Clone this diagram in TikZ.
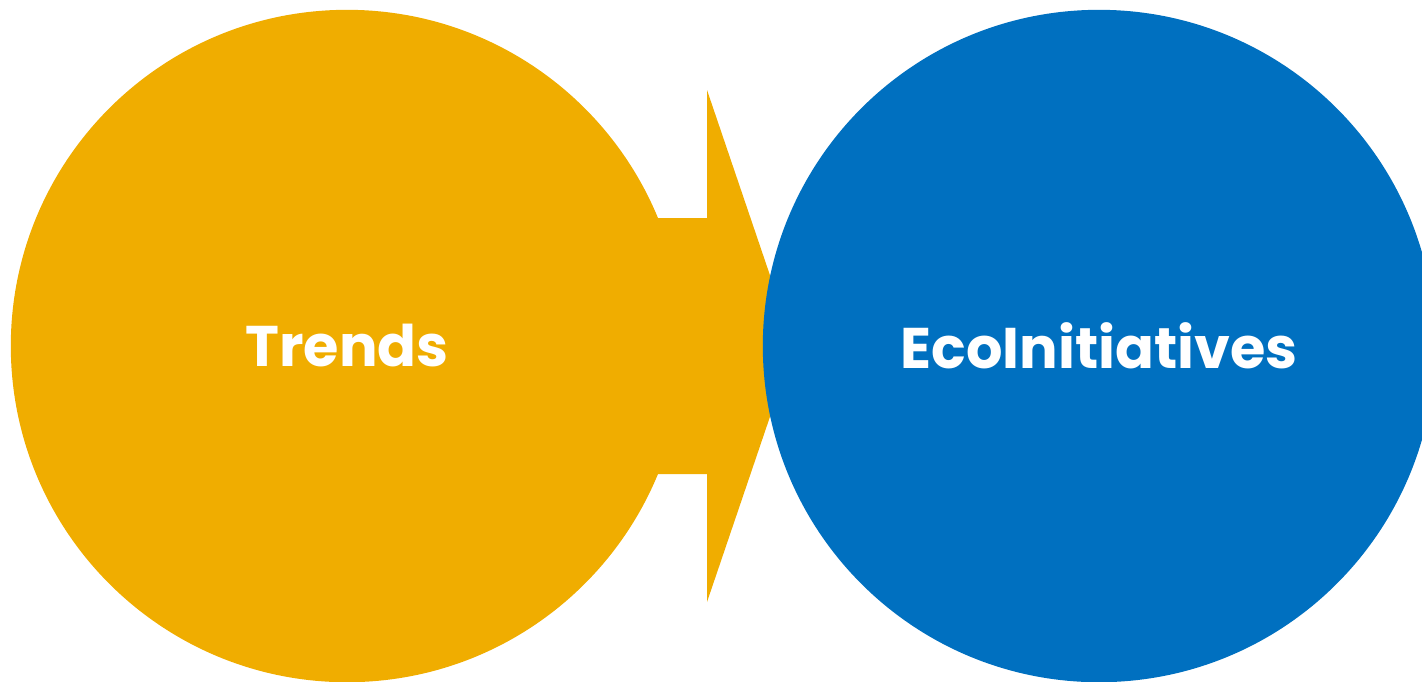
\documentclass[tikz,border=0pt]{standalone}
\usepackage{fontspec}
\setmainfont{Poppins}[UprightFont=* Bold]
\definecolor{gold}{HTML}{F0AD00}
\definecolor{eco}{HTML}{0070C0}
\begin{document}
\begin{tikzpicture}[x=0.01cm,y=-0.01cm,
  blob/.style={circle,minimum size=6.72cm,inner sep=0pt,text=white,font=\fontsize{16.3}{20}\selectfont}]
\useasboundingbox (0,0) rectangle (1422,681);
\clip (0,0) rectangle (1422,681);
\fill[gold] (657,218) -- (707,218) -- (707,90) -- (794,346) -- (707,602) -- (707,474) -- (657,474) -- cycle;
\node[blob,fill=gold] (trends) at (347,346) {Trends};
\node[blob,fill=eco] (eco) at (1099,346) {EcoInitiatives};
\end{tikzpicture}
\end{document}
